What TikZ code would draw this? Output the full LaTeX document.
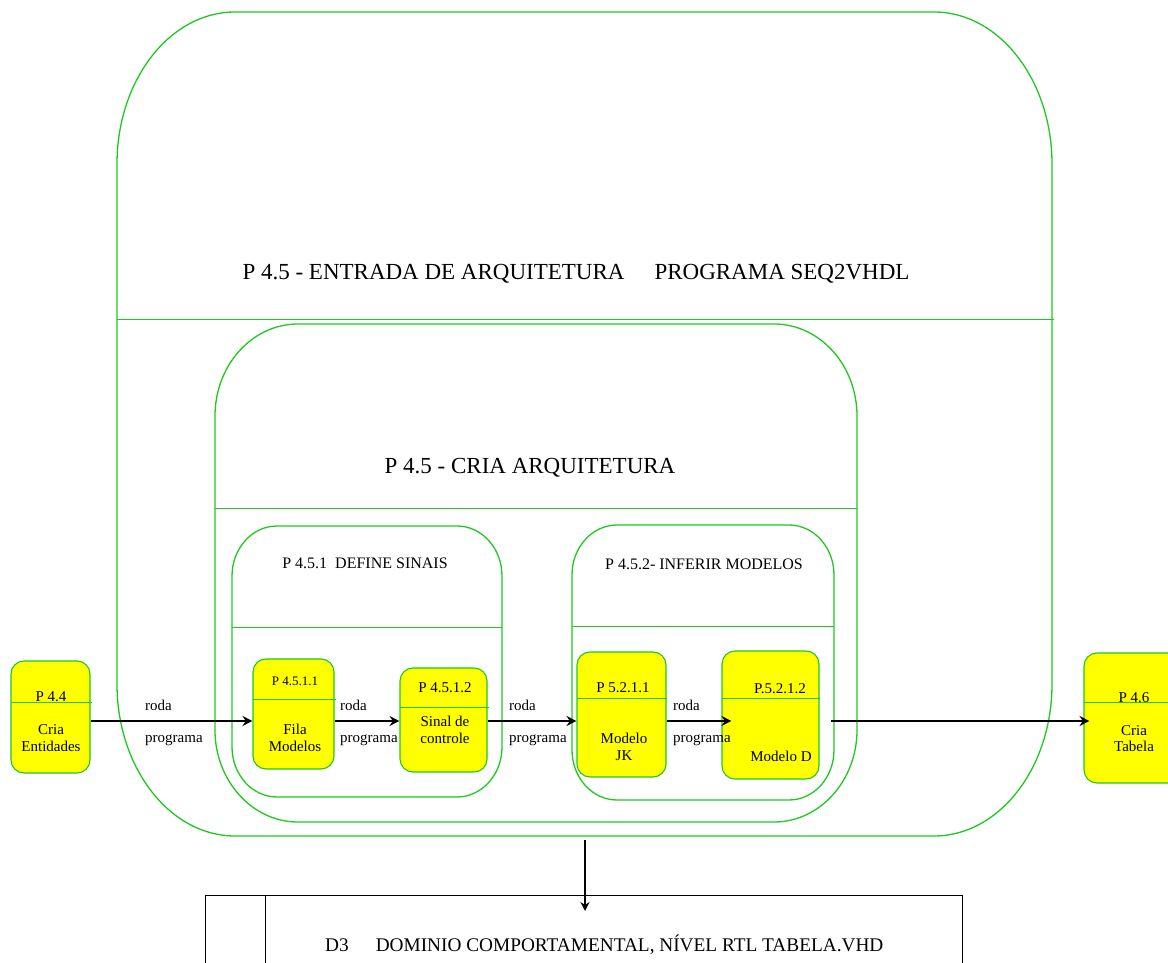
\documentclass[tikz,border=0pt]{standalone}
\usepackage{fontspec}
\setmainfont{Liberation Serif}
\usetikzlibrary{arrows.meta}
\definecolor{framegreen}{RGB}{30,200,30}
\definecolor{procyellow}{RGB}{255,255,0}

% rounded frame with elliptical corners: x1 y1 (bottom left) x2 y2 (top right) rx ry
\newcommand\roundframe[6]{%
  \draw[frame] ({#1+#5},#4) -- ({#3-#5},#4)
    arc[start angle=90,end angle=0,x radius=#5pt,y radius=#6pt]
    -- (#3,{#2+#6})
    arc[start angle=0,end angle=-90,x radius=#5pt,y radius=#6pt]
    -- ({#1+#5},#2)
    arc[start angle=270,end angle=180,x radius=#5pt,y radius=#6pt]
    -- (#1,{#4-#6})
    arc[start angle=180,end angle=90,x radius=#5pt,y radius=#6pt]
    -- cycle;}

\tikzset{
  frame/.style={draw=framegreen, line width=1.3pt},
  divider/.style={draw=framegreen, line width=1pt},
  proc/.style={draw=framegreen, fill=procyellow, line width=1.1pt,
               rounded corners=13pt, inner sep=0pt},
  flow/.style={line width=2.8pt, -{Stealth[length=10pt,width=10pt,inset=3.5pt]}},
  store/.style={line width=2pt, -{Stealth[length=9pt,width=9pt,inset=3pt]}},
  small/.style={font=\fontsize{15}{17}\selectfont, inner sep=0pt, anchor=base},
  tiny/.style={font=\fontsize{13}{15}\selectfont, inner sep=0pt, anchor=base},
  sub/.style={font=\fontsize{16}{19}\selectfont, inner sep=0pt, anchor=base},
  big/.style={font=\fontsize{23}{27}\selectfont, inner sep=0pt, anchor=base},
}

\begin{document}
\begin{tikzpicture}[x=1pt,y=1pt]
\useasboundingbox (0,0) rectangle (1168,962);
\clip (0,0) rectangle (1168,962);

% outer process P 4.5
\roundframe{117}{126}{1052}{950}{118}{152}
\draw[divider] (117,642) -- (1054,642);
\node[big] (t45) at (576,682) {P 4.5 - ENTRADA DE ARQUITETURA\hspace{30pt}PROGRAMA SEQ2VHDL};

% middle process
\roundframe{215}{140}{857}{638}{83}{92}
\draw[divider] (215,453) -- (857,453);
\node[big] (tcria) at (530,488) {P 4.5 - CRIA ARQUITETURA};

% P 4.5.1
\roundframe{232}{165}{502}{436}{45}{50}
\draw[divider] (232,334) -- (502,334);
\node[sub] (t451) at (365,393) {P 4.5.1\hspace{8pt}DEFINE SINAIS};

% P 4.5.2
\roundframe{572}{162}{834}{437}{45}{50}
\draw[divider] (572,335) -- (834,335);
\node[sub] (t452) at (704,392) {P 4.5.2- INFERIR MODELOS};

% P 4.4
\node[proc, minimum width=79pt, minimum height=112pt] (p44) at (50.5,245) {};
\draw[divider] (11,259) -- (92,259);
\node[small] (p44a) at (51,260) {P 4.4};
\node[small] (p44b) at (51,227) {Cria};
\node[small] (p44c) at (51,210) {Entidades};

% P 4.5.1.1
\node[proc, minimum width=81pt, minimum height=110pt] (p4511) at (293.5,248) {};
\draw[divider] (253,262) -- (336,262);
\node[tiny] (p4511a) at (295,276) {P 4.5.1.1};
\node[small] (p4511b) at (295,227) {Fila};
\node[small] (p4511c) at (295,210) {Modelos};

% P 4.5.1.2
\node[proc, minimum width=87pt, minimum height=104pt] (p4512) at (443.5,242) {};
\draw[divider] (400,254) -- (489,254);
\node[small] (p4512a) at (445,269) {P 4.5.1.2};
\node[small] (p4512b) at (445,235) {Sinal de};
\node[small] (p4512c) at (445,218) {controle};

% P 5.2.1.1
\node[proc, minimum width=89pt, minimum height=125pt] (p5211) at (621.5,247.5) {};
\draw[divider] (577,263) -- (667,263);
\node[small] (p5211a) at (623,269) {P 5.2.1.1};
\node[small] (p5211b) at (624,218) {Modelo};
\node[small] (p5211c) at (624,201) {JK};

% P.5.2.1.2
\node[proc, minimum width=97pt, minimum height=128pt] (p5212) at (770.5,247) {};
\draw[divider] (722,263) -- (820,263);
\node[small] (p5212a) at (780,268) {P.5.2.1.2};
\node[small] (p5212b) at (781,200) {Modelo D};

% P 4.6
\node[proc, minimum width=100pt, minimum height=130pt] (p46) at (1134,244) {};
\draw[divider] (1084,259) -- (1184,259);
\node[small] (p46a) at (1134,259) {P 4.6};
\node[small] (p46b) at (1134,226) {Cria};
\node[small] (p46c) at (1134,210) {Tabela};

% data flows
\coordinate (lvl) at (0,241);
\draw[flow] (p44.east |- lvl) -- (p4511.west |- lvl);
\draw[flow] (p4511.east |- lvl) -- (p4512.west |- lvl);
\draw[flow] (p4512.east |- lvl) -- (p5211.west |- lvl);
\draw[flow, shorten >=-10pt] (p5211.east |- lvl) -- (p5212.west |- lvl);
\draw[flow, shorten <=11pt, shorten >=-6pt] (p5212.east |- lvl) -- (p46.west |- lvl);

\node[small, anchor=base west] (r1) at (145,251) {roda};
\node[small, anchor=base west] (g1) at (145,219) {programa};
\node[small, anchor=base west] (r2) at (340,251) {roda};
\node[small, anchor=base west] (g2) at (340,219) {programa};
\node[small, anchor=base west] (r3) at (509,251) {roda};
\node[small, anchor=base west] (g3) at (509,219) {programa};
\node[small, anchor=base west] (r4) at (673,251) {roda};
\node[small, anchor=base west] (g4) at (673,219) {programa};

% data store D3
\node[draw, line width=1pt, minimum width=757pt, minimum height=100pt, anchor=north west, inner sep=0pt] (d3) at (205,67) {};
\draw[line width=1pt] (265,67) -- (265,-40);
\node[font=\fontsize{19.3}{23}\selectfont, inner sep=0pt, anchor=base west] (d3t) at (325,11)
  {D3\hspace{27pt}DOMINIO COMPORTAMENTAL, NÍVEL RTL TABELA.VHD};

\coordinate (outbot) at (585,122);
\draw[store, shorten >=-16pt] (outbot) -- (outbot |- d3.north);
\end{tikzpicture}
\end{document}
